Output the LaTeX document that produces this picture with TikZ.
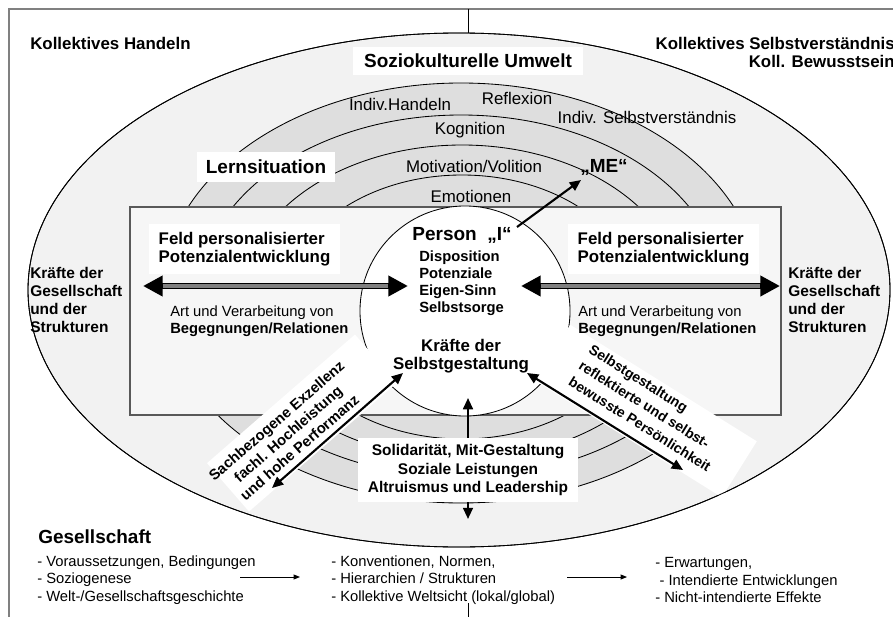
\documentclass[tikz,border=0pt]{standalone}
\usepackage{fontspec}
\setmainfont{Liberation Sans}
\usetikzlibrary{arrows.meta}

\definecolor{hellgrau}{gray}{0.95}
\definecolor{ringgrau}{gray}{0.87}
\definecolor{feldgrau}{gray}{0.965}
\definecolor{rahmengrau}{gray}{0.5}

\newcommand\fKopf{\fontsize{12}{12.8}\selectfont\bfseries}
\newcommand\fTitel{\fontsize{13.5}{16}\selectfont\bfseries}
\newcommand\fRing{\fontsize{12}{14}\selectfont}
\newcommand\fKraft{\fontsize{11}{13}\selectfont\bfseries}
\newcommand\fKlein{\fontsize{10.5}{12.4}\selectfont}
\newcommand\fDispo{\fontsize{10.5}{12.1}\selectfont\bfseries}
\newcommand\fSelbst{\fontsize{12}{12.8}\selectfont\bfseries}
\newcommand\fSoli{\fontsize{11}{13.5}\selectfont\bfseries}
\newcommand\fDreh{\fontsize{10.5}{12.5}\selectfont\bfseries}
\newcommand\fDrehR{\fontsize{10}{13.5}\selectfont\bfseries}

\begin{document}
\begin{tikzpicture}[x=0.025cm, y=-0.025cm,
    txt/.style={inner sep=0pt},
    weiss/.style={fill=white, inner sep=0pt},
    ring/.style={draw, line width=0.6pt, fill=ringgrau},
    pfeil/.style={line width=1.5pt, {Triangle[length=8pt,width=7pt]}-{Triangle[length=8pt,width=7pt]}},
    dick/.style={line width=4.3pt, {Triangle[length=14pt,width=14pt]}-{Triangle[length=14pt,width=14pt]}},
    duenn/.style={line width=0.6pt, -{Triangle[length=4.5pt,width=3.5pt]}}]
    \path[use as bounding box] (0,0) rectangle (893,617);
    \clip (0,0) rectangle (893,617);

    \draw[rahmengrau, line width=1.1pt] (9,617) -- (9,9) -- (893,9);
    \draw[line width=0.6pt] (468,9) -- (468,33);
    \draw[line width=0.6pt] (468,603) -- (468,617);

    % Ringe
    \draw[line width=0.6pt, fill=hellgrau] (459,290) ellipse [x radius=431, y radius=257];
    \draw[ring] (461,293) ellipse [x radius=299, y radius=210];
    \draw[ring] (461,296) ellipse [x radius=262, y radius=181];
    \draw[ring] (462,302) ellipse [x radius=222, y radius=157];
    \draw[ring] (462,307) ellipse [x radius=179, y radius=132];
    \draw[draw=black!65, line width=0.8pt, fill=feldgrau] (130,207) rectangle (781,415);

    \node[txt, font=\fRing] (R1) at (400,104) {Indiv.Handeln};
    \node[txt, font=\fRing] (R2) at (517,98) {Reflexion};
    \node[txt, font=\fRing] (R3) at (470,130) {Kognition};
    \node[txt, font=\fRing] (R4) at (647,117) {Indiv. Selbstverständnis};
    \node[txt, font=\fRing] (R5) at (474,166) {Motivation/Volition};
    \node[txt, font=\fRing] (R6) at (471,196) {Emotionen};

    \node[circle, draw, fill=white, line width=0.6pt, minimum size=5.25cm] (P) at (465,311) {};

    \node[weiss, font=\fTitel, minimum width=5.75cm, minimum height=0.7cm] (U) at (468,61) {Soziokulturelle Umwelt};
    \node[weiss, font=\fTitel, minimum width=3.45cm, minimum height=0.75cm] (L) at (266,167) {Lernsituation};
    \node[weiss, font=\fKopf, align=left, minimum width=4.775cm, minimum height=1.225cm] (FL) at (244.5,249) {Feld personalisierter\\Potenzialentwicklung};
    \node[weiss, font=\fKopf, align=left, minimum width=4.775cm, minimum height=1.225cm] (FR) at (663.5,249) {Feld personalisierter\\Potenzialentwicklung};
    \node[weiss, rotate=41, minimum width=4.9cm, minimum height=1.6cm] (BL) at (302,423) {};
    \node[weiss, rotate=-32, minimum width=5.5cm, minimum height=1.65cm] (BR) at (646,411) {};
    \draw[line width=0.6pt] (459,290) ellipse [x radius=431, y radius=257];

    \node[txt, font=\fKopf, anchor=west] (KH) at (30,43) {Kollektives Handeln};
    \node[txt, font=\fKopf, align=right, anchor=east] (KS) at (895,52.5) {Kollektives Selbstverständnis\\Koll. Bewusstsein};
    \node[txt, font=\fKraft, align=left, anchor=west] (KL) at (30,300) {Kräfte der\\Gesellschaft\\und der\\Strukturen};
    \node[txt, font=\fKraft, align=left, anchor=west] (KR) at (788,300) {Kräfte der\\Gesellschaft\\und der\\Strukturen};
    \node[txt, font=\fKlein, align=left, anchor=west] (AL) at (170,321) {Art und Verarbeitung von\\\textbf{Begegnungen/Relationen}};
    \node[txt, font=\fKlein, align=left, anchor=west] (AR) at (578,321) {Art und Verarbeitung von\\\textbf{Begegnungen/Relationen}};

    \node[txt, font=\fTitel] (I) at (462,235) {Person\ \ „I“};
    \node[txt, font=\fDispo, align=left, anchor=west] (D) at (419,283) {Disposition\\Potenziale\\Eigen-Sinn\\Selbstsorge};
    \node[txt, font=\fSelbst, align=center] (S) at (461,356) {Kräfte der\\Selbstgestaltung};
    \node[txt, font=\fTitel] (ME) at (604,167) {„ME“};

    \node[txt, font=\fDreh, align=center, rotate=41] (TL) at (288,434) {Sachbezogene Exzellenz\\fachl. Hochleistung\\und hohe Performanz};
    \node[txt, font=\fDrehR, align=left, rotate=-32] (TR) at (650,408) {Selbstgestaltung\\reflektierte und selbst-\\bewusste Persönlichkeit};

    % Pfeile
    \coordinate (h1) at (143,286);
    \coordinate (h2) at (408,286);
    \coordinate (h3) at (521,286);
    \coordinate (h4) at (780,286);
    \draw[dick] (h1) -- (h2);
    \draw[dick] (h3) -- (h4);
    \draw[gray, line width=2.4pt, shorten <=14pt, shorten >=14pt] (h1) -- (h2);
    \draw[gray, line width=2.4pt, shorten <=14pt, shorten >=14pt] (h3) -- (h4);

    \coordinate (d1) at (272,488);
    \coordinate (d2) at (403,373);
    \coordinate (d3) at (527,373);
    \coordinate (d4) at (683,470);
    \coordinate (v1) at (468,398);
    \coordinate (v2) at (468,519);
    \coordinate (m1) at (517,227);
    \coordinate (m2) at (581,180);
    \draw[pfeil] (d1) -- (d2);
    \draw[pfeil] (d3) -- (d4);
    \draw[pfeil] (v1) -- (v2);
    \draw[line width=1.5pt, -{Triangle[length=8pt,width=7pt]}] (m1) -- (m2);

    \node[weiss, font=\fSoli, align=center, minimum width=5.5cm, minimum height=1.6cm] (SO) at (468,470) {Solidarität, Mit-Gestaltung\\Soziale Leistungen\\Altruismus und Leadership};

    \node[txt, font=\fTitel, anchor=west] (G) at (38,537) {Gesellschaft};
    \node[txt, font=\fKlein, align=left, anchor=west] (G1) at (37,580) {- Voraussetzungen, Bedingungen\\- Soziogenese\\- Welt-/Gesellschaftsgeschichte};
    \node[txt, font=\fKlein, align=left, anchor=west] (G2) at (331,580) {- Konventionen, Normen,\\- Hierarchien / Strukturen\\- Kollektive Weltsicht (lokal/global)};
    \node[txt, font=\fKlein, align=left, anchor=west] (G3) at (655,580) {- Erwartungen,\\\hspace*{3pt}- Intendierte Entwicklungen\\- Nicht-intendierte Effekte};
    \coordinate (b1) at (240,577);
    \coordinate (b2) at (300,577);
    \coordinate (b3) at (567,577);
    \coordinate (b4) at (627,577);
    \draw[duenn] (b1) -- (b2);
    \draw[duenn] (b3) -- (b4);
\end{tikzpicture}
\end{document}
